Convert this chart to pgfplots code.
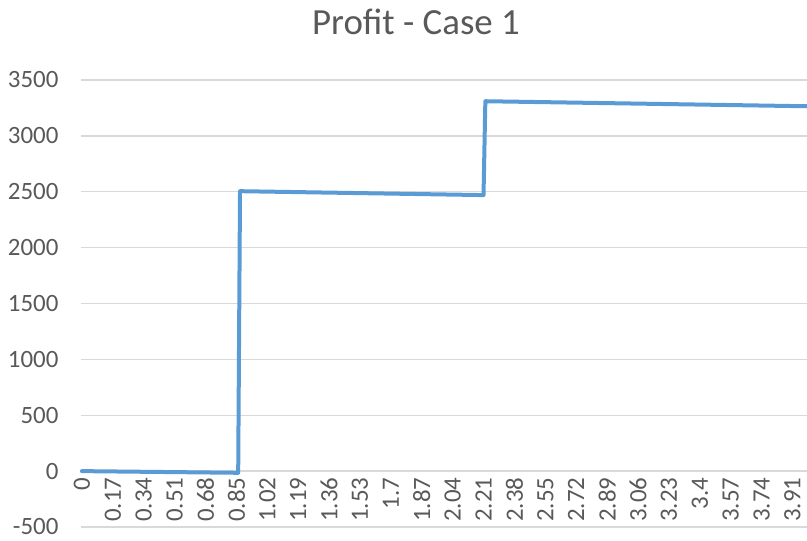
\documentclass[border=0pt]{standalone}
\usepackage{fontspec}
\setmainfont{Carlito}
\usepackage{pgfplots}
\pgfplotsset{compat=1.18}
\definecolor{lineblue}{HTML}{5B9BD5}
\definecolor{txtgray}{HTML}{595959}
\definecolor{gridgray}{HTML}{D9D9D9}
\begin{document}
\begin{tikzpicture}
\path[use as bounding box] (0,0) rectangle (807bp,541bp);
\node[text=txtgray, font=\fontsize{37}{44}\selectfont] at (416bp,519bp) {Profit - Case 1};
\begin{axis}[
  at={(81bp,14bp)}, anchor=south west,
  scale only axis, width=726bp, height=447bp,
  xmin=-0.005, xmax=3.99, ymin=-500, ymax=3500,
  ytick={-500,0,500,1000,1500,2000,2500,3000,3500},
  xtick={0,0.17,0.34,0.51,0.68,0.85,1.02,1.19,1.36,1.53,1.7,1.87,2.04,2.21,2.38,2.55,2.72,2.89,3.06,3.23,3.4,3.57,3.74,3.91},
  xticklabels={0,0.17,0.34,0.51,0.68,0.85,1.02,1.19,1.36,1.53,1.7,1.87,2.04,2.21,2.38,2.55,2.72,2.89,3.06,3.23,3.4,3.57,3.74,3.91},
  axis x line=middle, axis y line=left,
  hide obscured x ticks=false, hide obscured y ticks=false,
  axis line style={-},
  x axis line style={gridgray, line width=1.4bp},
  y axis line style={draw=none},
  major tick length=0pt,
  ymajorgrids, grid style={gridgray, line width=1.4bp},
  /pgf/number format/assume math mode=true,
  yticklabel={\pgfmathprintnumber[fixed,1000 sep={}]{\tick}},
  tick label style={text=txtgray, font=\fontsize{25}{29}\selectfont},
  yticklabel style={anchor=east, xshift=-19bp},
  xticklabel style={rotate=90, anchor=east, xshift=-3bp},
  clip=false,
]
\addplot[lineblue, line width=4bp, line join=round, line cap=round] coordinates {
(0,0) (0.86,-15) (0.87,2505) (2.21,2470) (2.22,3310) (3.99,3265)
};
\end{axis}
\end{tikzpicture}
\end{document}
